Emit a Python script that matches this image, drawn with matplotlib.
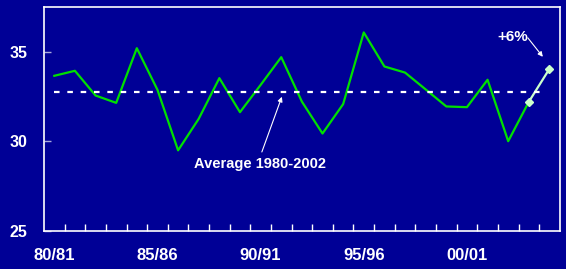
import numpy as np
import matplotlib
matplotlib.use("Agg")
import matplotlib.pyplot as plt

# seasons 80/81 .. 04/05
seasons = [f"{y % 100:02d}/{(y + 1) % 100:02d}" for y in range(1980, 2005)]
values = [33.66, 33.94, 32.56, 32.15, 35.2, 32.88, 29.5, 31.26, 33.53, 31.63,
          33.15, 34.7, 32.22, 30.44, 32.08, 36.08, 34.18, 33.84, 32.9, 31.95,
          31.91, 33.44, 30.01, 32.21, 34.05]
average = 32.78
label_every = 5

bg = "#000096"
plt.rcParams["font.family"] = ["Liberation Sans", "DejaVu Sans"]
plt.rcParams["font.weight"] = "bold"

fig = plt.figure(figsize=(5.66, 2.69), dpi=100, facecolor=bg)
ax = fig.add_axes([0.0777, 0.1413, 0.9113, 0.8327], facecolor=bg)

x = np.arange(len(values))
# history in green, latest change highlighted
ax.plot(x[:-1], values[:-1], color="#00e000", lw=1.6)
ax.plot(x[-2:], values[-2:], color="#ccffcc", lw=1.6, marker="D", ms=4,
        mfc="#ccffcc", mec="#ccffcc")

ax.plot([0, len(values) - 1.2], [average, average], color="white", lw=1.6,
        ls=(0, (2.5, 3.5)))

arrow = dict(arrowstyle="-|>", color="white", lw=0.8, mutation_scale=7,
             shrinkA=0, shrinkB=0)
ax.text(9.96, 28.74, "Average 1980-2002", color="white", fontsize=10.5,
        fontweight="bold", ha="center", va="center")
ax.annotate("", xy=(11.03, 32.49), xytext=(10.06, 29.41), arrowprops=arrow)
ax.text(22.23, 35.84, "+6%", color="white", fontsize=11,
        fontweight="bold", ha="center", va="center")
ax.annotate("", xy=(23.68, 34.72), xytext=(22.95, 35.78), arrowprops=arrow)

ax.set_xlim(-0.5, len(values) - 0.5)
ax.set_ylim(25, 37.5)
ax.set_yticks([25, 30, 35])
ax.set_xticks(x[::label_every])
ax.set_xticklabels(seasons[::label_every])
ax.set_xticks(np.arange(0.5, len(values) - 1, 1), minor=True)

for s in ax.spines.values():
    s.set_color("white")
    s.set_linewidth(1.2)

ax.tick_params(axis="y", direction="in", length=5, color="#aaaadd", width=1,
               labelcolor="white", labelsize=11.5, pad=12)
ax.tick_params(axis="x", which="major", length=0, labelcolor="white",
               labelsize=12, pad=12)
ax.tick_params(axis="x", which="minor", direction="in", length=5,
               color="white", width=1)

fig.savefig("out.png", dpi=100, facecolor=bg)
